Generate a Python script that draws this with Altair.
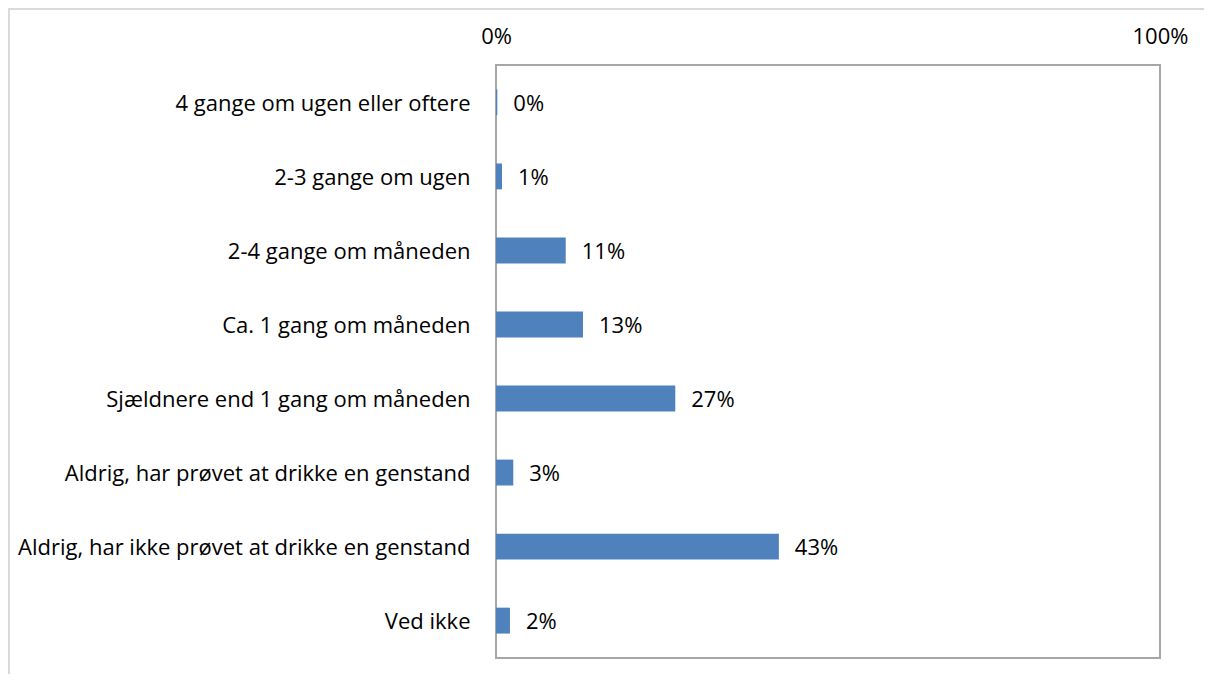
import altair as alt
import pandas as pd

categories = [
    "4 gange om ugen eller oftere",
    "2-3 gange om ugen",
    "2-4 gange om måneden",
    "Ca. 1 gang om måneden",
    "Sjældnere end 1 gang om måneden",
    "Aldrig, har prøvet at drikke en genstand",
    "Aldrig, har ikke prøvet at drikke en genstand",
    "Ved ikke",
]
values = [0.2, 0.9, 10.5, 13.1, 27.0, 2.6, 42.6, 2.1]
labels = ["0%", "1%", "11%", "13%", "27%", "3%", "43%", "2%"]

df = pd.DataFrame({"cat": categories, "val": [v / 100 for v in values], "lab": labels})

FONT = "Open Sans"
FS = 22

y = alt.Y("cat:N", sort=categories, title=None,
          scale=alt.Scale(paddingInner=0.65, paddingOuter=0.33),
          axis=alt.Axis(domain=False, ticks=False, labelPadding=26, labelFont=FONT,
                        labelFontSize=FS, labelColor="#000000", labelLimit=600,
                        labelOffset=1.5))
x = alt.X("val:Q", title=None,
          scale=alt.Scale(domain=[0, 1], nice=False),
          axis=alt.Axis(orient="top", values=[0, 1], format=".0%", domain=False, ticks=False,
                        grid=False, labelPadding=17, labelFont=FONT, labelFontSize=FS,
                        labelColor="#000000", labelFlush=False))

bars = alt.Chart(df).mark_bar(color="#4f81bd").encode(x=x, y=y)
text = alt.Chart(df).mark_text(align="left", baseline="middle", dx=16, dy=1.5, font=FONT,
                               fontSize=FS, color="#000000").encode(
    x=alt.X("val:Q"), y=alt.Y("cat:N", sort=categories), text="lab:N")

frame_left = alt.Chart(df).mark_rule(color="#d9d9d9", strokeWidth=2).encode(
    x=alt.value(-487.5), y=alt.value(-57), y2=alt.value(700))
frame_top = alt.Chart(df).mark_rule(color="#d9d9d9", strokeWidth=2).encode(
    y=alt.value(-56.5), x=alt.value(-488), x2=alt.value(800))

chart = alt.layer(frame_left, frame_top, bars, text).properties(
    width=664, height=593,
    autosize=alt.AutoSizeParams(type="none"),
    padding={"left": 488, "top": 57, "right": 44, "bottom": 16},
).configure_view(stroke="#a6a6a6", strokeWidth=2)

chart.save("out.html", embed_options={"renderer": "svg", "actions": False})
